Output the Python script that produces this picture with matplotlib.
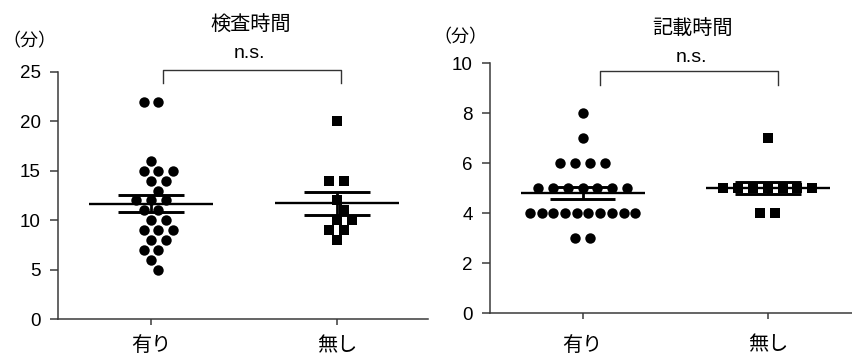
import numpy as np
import matplotlib
matplotlib.use('Agg')
import matplotlib.pyplot as plt

plt.rcParams['font.family'] = ['Liberation Sans', 'Noto Sans CJK JP']

# ---------------- data ----------------
groups = ['有り', '無し']
titles = ['検査時間', '記載時間']
unit_label = '（分）'
sig_label = 'n.s.'

exam_with = [22, 22, 16, 15, 15, 15, 14, 14, 13, 12, 12, 12, 11, 11, 10, 10,
             9, 9, 9, 8, 8, 7, 7, 6, 5]
exam_without = [20, 14, 14, 12, 11, 10, 10, 9, 9, 8]
record_with = [8, 7, 6, 6, 6, 6, 5, 5, 5, 5, 5, 5, 5, 4, 4, 4, 4, 4, 4, 4,
               4, 4, 4, 3, 3]
record_without = [7, 5, 5, 5, 5, 5, 5, 5, 4, 4]

exam_yticks = [0, 5, 10, 15, 20, 25]
record_yticks = [0, 2, 4, 6, 8, 10]

# ---------------- helpers ----------------
def row_offsets(values, px_per_unit, pitch=0.08, maxspan=0.57, diam=10.5):
    """Spread equal values horizontally in centred rows; shift a row by half
    a pitch when it would touch the neighbouring row."""
    values = np.asarray(values, dtype=float)
    off = np.zeros_like(values)
    placed = []  # (value, offset)
    px_per_x = 186.0
    for v in np.unique(values)[::-1]:
        idx = np.where(values == v)[0]
        c = len(idx)
        p = pitch if c == 1 else min(pitch, maxspan / (c - 1))
        base = (np.arange(c) - (c - 1) / 2) * p
        best = base
        for shift in [0.0, p / 2, -p / 2, p, -p]:
            cand = base + shift
            ok = True
            for (pv, po) in placed:
                dy = (pv - v) * px_per_unit
                for co in cand:
                    dx = (po - co) * px_per_x
                    if dx * dx + dy * dy < diam * diam:
                        ok = False
                        break
                if not ok:
                    break
            if ok:
                best = cand
                break
        off[idx] = best
        placed.extend((v, o) for o in best)
    return off


def draw_panel(ax, data_list, markers, ylim, yticks, bracket, ns_pos,
               px_per_unit, xpad):
    for i, (vals, mk) in enumerate(zip(data_list, markers)):
        vals = np.asarray(vals, dtype=float)
        x = i + row_offsets(vals, px_per_unit)
        ax.plot(x, vals, linestyle='none', marker=mk, markersize=7.5,
                color='black', markeredgewidth=0, zorder=2)
        m = vals.mean()
        s = vals.std(ddof=1) / np.sqrt(len(vals))
        ax.hlines(m, i - 0.335, i + 0.335, color='black', lw=1.7, zorder=3)
        ax.hlines([m - s, m + s], i - 0.177, i + 0.177, color='black',
                  lw=2.1, zorder=3)
        ax.vlines(i, m - s, m + s, color='black', lw=2.0, zorder=3)

    ax.set_ylim(*ylim)
    ax.set_yticks(yticks)
    ax.set_xticks([0, 1])
    ax.set_xticklabels(groups, fontsize=14.5)
    for sp in ['top', 'right']:
        ax.spines[sp].set_visible(False)
    for sp in ['left', 'bottom']:
        ax.spines[sp].set_color('#3a3a3a')
        ax.spines[sp].set_linewidth(1.1)
    ax.tick_params(axis='y', length=5.8, width=1.1, color='#3a3a3a',
                   labelsize=13.5, pad=6.5)
    ax.tick_params(axis='x', length=4.3, width=1.1, color='#3a3a3a',
                   pad=xpad)

    bx0, bx1, by0, by1 = bracket
    ax.plot([bx0, bx0, bx1, bx1], [by0, by1, by1, by0], color='#333333',
            lw=1.0, clip_on=False)
    ax.text(ns_pos[0], ns_pos[1], sig_label, ha='center', va='center',
            fontsize=14)


fig = plt.figure(figsize=(8.53, 3.58), dpi=100)

ax1 = fig.add_axes([58 / 853, 39 / 358, 370 / 853, 247 / 358])
ax1.set_xlim(-0.5, 1.49)
draw_panel(ax1, [exam_with, exam_without], ['o', 's'], (0, 25), exam_yticks,
           (0.065, 1.02, 23.9, 25.2), (0.527, 26.9), 9.88, 8.0)

ax2 = fig.add_axes([490 / 853, 45 / 358, 363 / 853, 250 / 358])
ax2.set_xlim(-0.5, 1.46)
draw_panel(ax2, [record_with, record_without], ['o', 's'], (0, 10),
           record_yticks, (0.096, 1.056, 9.12, 9.68), (0.586, 10.24), 25.0,
           12.0)

fig.text(251 / 853, 1 - 25 / 358, titles[0], ha='center', va='center',
         fontsize=14.5)
fig.text(693 / 853, 1 - 28 / 358, titles[1], ha='center', va='center',
         fontsize=14.5)
fig.text(29 / 853, 1 - 42 / 358, unit_label, ha='center', va='center',
         fontsize=13)
fig.text(460 / 853, 1 - 38 / 358, unit_label, ha='center', va='center',
         fontsize=13)

fig.savefig('out.png', dpi=100)
